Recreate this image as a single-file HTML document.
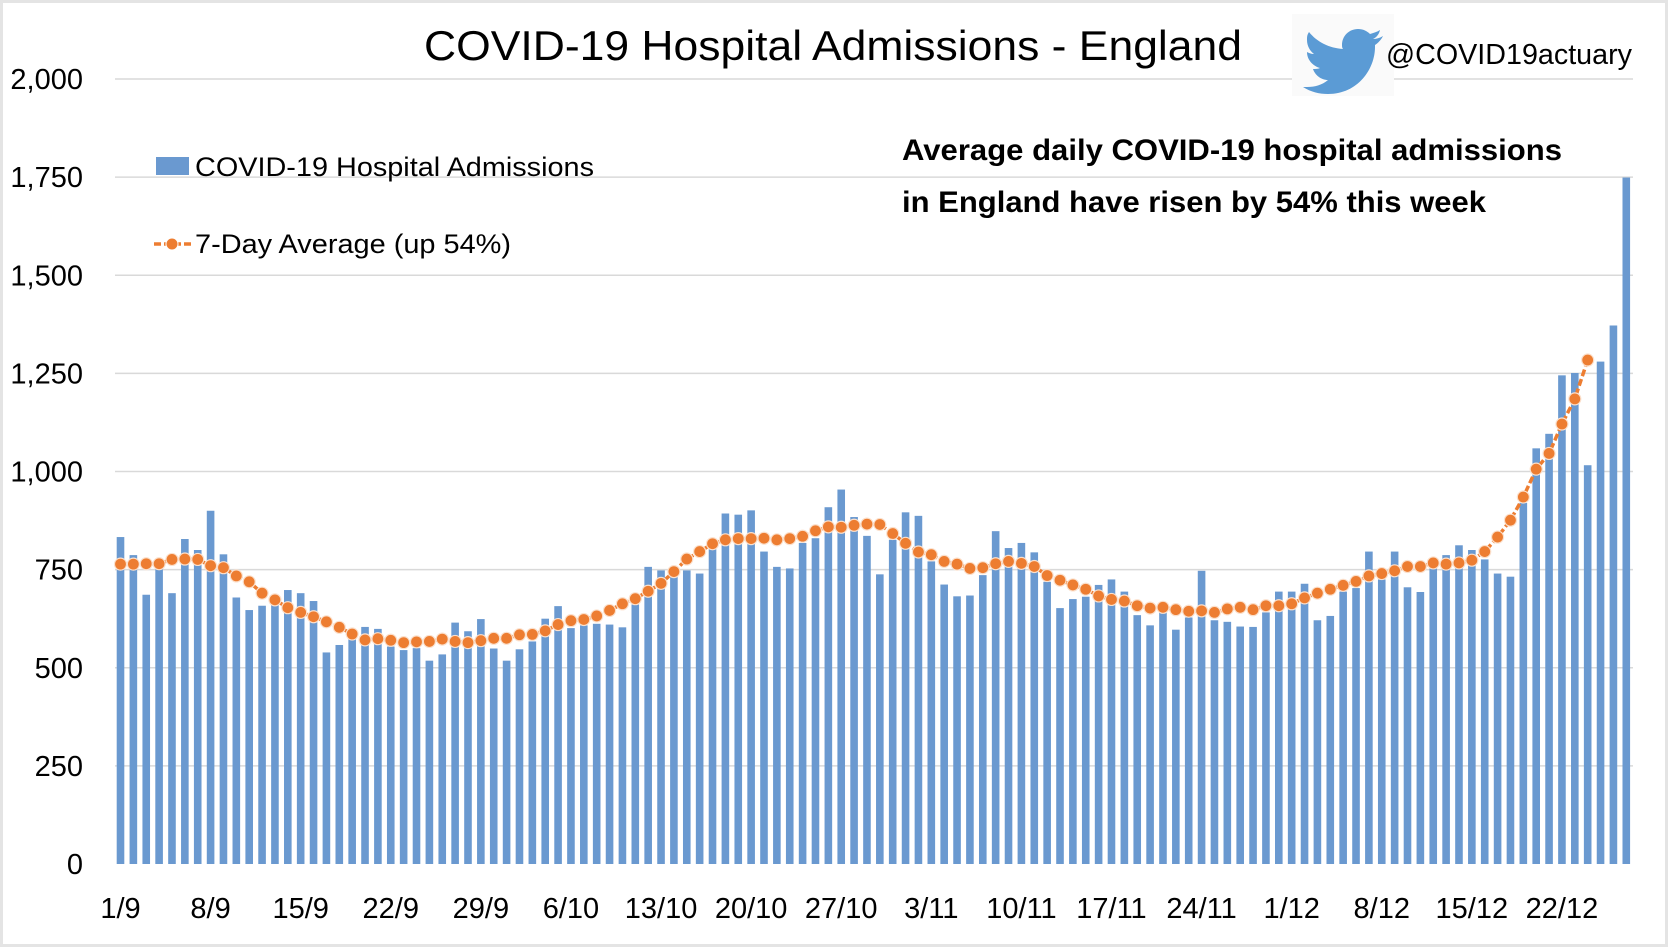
<!DOCTYPE html>
<html><head><meta charset="utf-8"><style>
html,body{margin:0;padding:0;background:#fff;}
svg{display:block;font-family:"Liberation Sans",Arial,sans-serif;}
</style></head><body>
<svg id="chart" width="1668" height="947" viewBox="0 0 1668 947" xmlns="http://www.w3.org/2000/svg">
<rect x="0" y="0" width="1668" height="947" fill="#fff"/>
<rect x="1.5" y="1.5" width="1665" height="944" fill="none" stroke="#e4e4e4" stroke-width="3"/>
<g id="grid"></g>
<g id="yticks"></g>
<g id="xticks"></g>
<g id="bars"></g>
<g id="avg"></g>
<text x="833" y="60" text-anchor="middle" font-size="42" textLength="818" lengthAdjust="spacingAndGlyphs" fill="#000">COVID-19 Hospital Admissions - England</text>
<rect x="1292" y="14" width="102" height="82" fill="#fafafa"/>
<path fill="#5b9bd5" d="M1383,36 c-3,2 -7,3 -10,3 c4,-2 6,-5 7,-9 c-3,2 -7,3 -10,4 c-3,-3 -7,-5 -12,-5 c-9,0 -16,7 -16,16 c0,1 0,3 1,4 c-14,-1 -26,-7 -34,-17 c-2,3 -2,5 -2,8 c0,6 3,11 7,14 c-3,0 -5,-1 -7,-2 c0,8 6,14 13,16 c-2,1 -5,1 -7,1 c2,6 8,11 15,11 c-6,5 -13,7 -21,7 c-2,0 -3,0 -4,0 c8,5 16,7 25,7 c30,0 47,-25 47,-47 v-2 c3,-2 6,-5 8,-9 z"/>
<text x="1386" y="64" font-size="29" textLength="246" lengthAdjust="spacingAndGlyphs" fill="#000">@COVID19actuary</text>
<g>
<rect x="156" y="157" width="33" height="18" fill="#6a99d0"/>
<text x="195" y="176" font-size="27" textLength="399" lengthAdjust="spacingAndGlyphs" fill="#000">COVID-19 Hospital Admissions</text>
<line x1="154" y1="244" x2="191" y2="244" stroke="#ed7d31" stroke-width="3.5" stroke-dasharray="7,3"/>
<circle cx="172" cy="244" r="6" fill="#ed7d31" stroke="#fff" stroke-width="1"/>
<text x="195" y="253" font-size="27" textLength="316" lengthAdjust="spacingAndGlyphs" fill="#000">7-Day Average (up 54%)</text>
</g>
<text x="902" y="160" font-size="30" font-weight="bold" textLength="660" lengthAdjust="spacingAndGlyphs" fill="#000">Average daily COVID-19 hospital admissions</text>
<text x="902" y="212" font-size="30" font-weight="bold" textLength="584" lengthAdjust="spacingAndGlyphs" fill="#000">in England have risen by 54% this week</text>
</svg>
<script>
const admissions = [833,787,686,755,690,828,800,900,789,679,647,658,665,698,690,670,539,558,575,604,599,554,545,550,518,534,615,593,624,549,518,547,567,625,657,601,608,612,610,603,661,757,748,736,748,740,802,893,890,901,796,757,753,818,830,909,954,884,836,738,826,896,887,771,712,682,684,736,848,805,818,794,719,652,675,681,711,725,694,634,608,641,597,628,747,621,617,605,604,641,694,694,714,621,632,694,703,796,725,796,705,693,754,787,812,800,776,740,732,920,1059,1096,1245,1251,1016,1280,1372,1749];
const average = [764,764,765,765,776,777,776,760,755,734,719,690,673,653,641,630,617,603,586,571,574,570,564,566,567,573,567,564,569,575,575,584,585,594,610,620,623,632,646,663,676,695,715,745,777,796,816,826,829,829,830,826,829,835,849,859,858,863,866,865,842,817,795,788,771,764,753,755,765,771,766,758,735,723,711,700,683,674,670,658,652,654,648,644,645,641,650,654,648,658,658,663,678,690,700,710,720,734,740,747,758,758,767,764,767,774,796,833,876,935,1006,1046,1121,1185,1284];
const yTicks = [0,250,500,750,1000,1250,1500,1750,2000];
const yTickLabels = ["0","250","500","750","1,000","1,250","1,500","1,750","2,000"];
const xTickIdx = [0,7,14,21,28,35,42,49,56,63,70,77,84,91,98,105,112];
const xTickLabels = ["1/9","8/9","15/9","22/9","29/9","6/10","13/10","20/10","27/10","3/11","10/11","17/11","24/11","1/12","8/12","15/12","22/12"];

const NS="http://www.w3.org/2000/svg";
const Y0=864, Y1=79, VMAX=2000, X0=120.5, STEP=12.87, GL=115, GR=1633;
function y(v){return Y0-(v/VMAX)*(Y0-Y1);}
function x(i){return X0+i*STEP;}
function mk(tag,attrs,parent){const e=document.createElementNS(NS,tag);for(const k in attrs)e.setAttribute(k,attrs[k]);parent.appendChild(e);return e;}

const grid=document.getElementById('grid');
yTicks.forEach((t,k)=>{
  if(t===0)return;
  const l=mk('line',{x1:GL,x2:GR,y1:y(t),y2:y(t),stroke:'#d9d9d9','stroke-width':1.5},grid);
  
  
});
const yt=document.getElementById('yticks');
yTicks.forEach((t,k)=>{
  const e=mk('text',{x:83,y:y(t)+10,'text-anchor':'end','font-size':29,fill:'#000'},yt);
  e.textContent=yTickLabels[k];
  
  
});
const xt=document.getElementById('xticks');
xTickIdx.forEach((i,k)=>{
  const e=mk('text',{x:x(i),y:918,'text-anchor':'middle','font-size':29,fill:'#000'},xt);
  e.textContent=xTickLabels[k];
  
  
});
const bars=document.getElementById('bars');
admissions.forEach((v,i)=>{
  const r=mk('rect',{x:x(i)-3.8,y:y(v),width:7.6,height:Y0-y(v),fill:'#6a99d0'},bars);
  
  
});
const avg=document.getElementById('avg');
const pts=average.map((v,i)=>x(i)+','+y(v)).join(' ');
const pl=mk('polyline',{points:pts,fill:'none',stroke:'#ed7d31','stroke-width':3.5,'stroke-dasharray':'7,3'},avg);


average.forEach((v,i)=>{
  const c=mk('circle',{cx:x(i),cy:y(v),r:6,fill:'#ed7d31',stroke:'#fbe0cc','stroke-width':1.2},avg);
  
  
});
</script>
</body></html>
